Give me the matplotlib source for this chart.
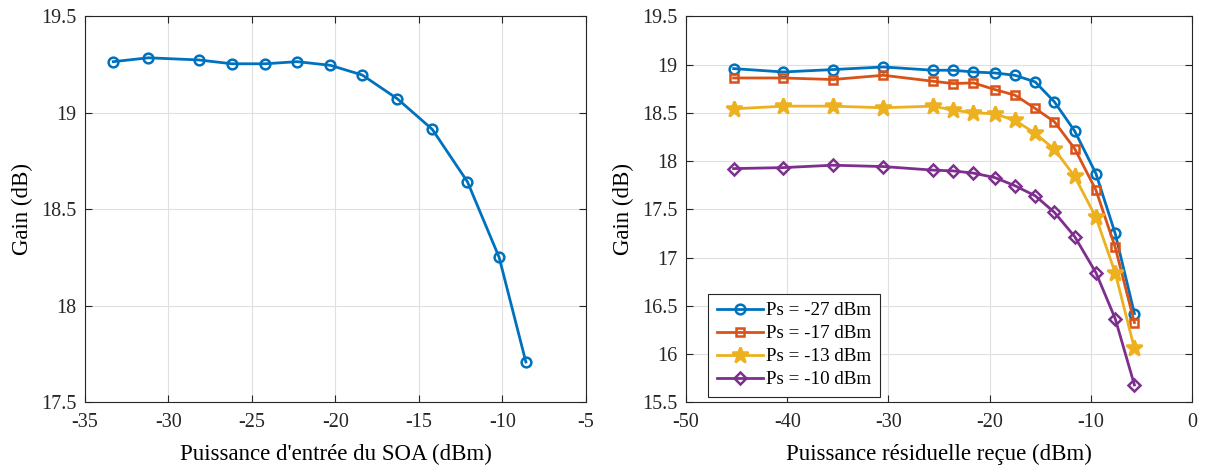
import matplotlib.pyplot as plt

plt.rcParams['font.family'] = ['Liberation Serif', 'DejaVu Serif']
plt.rcParams['axes.unicode_minus'] = False

# left plot: gain vs SOA input power
p_in = [-33.3, -31.2, -28.2, -26.2, -24.2, -22.3, -20.3, -18.4, -16.3, -14.2, -12.1, -10.2, -8.6]
gain_in = [19.265, 19.285, 19.274, 19.254, 19.254, 19.265, 19.246, 19.196, 19.073, 18.914, 18.643, 18.251, 17.709]

# right plot: gain vs received residual power
p_res = [-45.3, -40.4, -35.5, -30.5, -25.6, -23.6, -21.6, -19.5, -17.5, -15.5, -13.6, -11.6, -9.5, -7.6, -5.7]
g_27 = [18.958, 18.923, 18.948, 18.975, 18.941, 18.941, 18.923, 18.913, 18.889, 18.82, 18.613, 18.311, 17.87, 17.25, 16.42]
g_17 = [18.861, 18.861, 18.845, 18.889, 18.827, 18.803, 18.81, 18.741, 18.683, 18.545, 18.407, 18.128, 17.699, 17.107, 16.327]
g_13 = [18.541, 18.569, 18.569, 18.552, 18.569, 18.528, 18.5, 18.49, 18.422, 18.287, 18.122, 17.84, 17.416, 16.843, 16.058]
g_10 = [17.922, 17.932, 17.957, 17.943, 17.906, 17.898, 17.875, 17.829, 17.744, 17.64, 17.468, 17.217, 16.843, 16.368, 15.68]
labels = ['Ps = -27 dBm', 'Ps = -17 dBm', 'Ps = -13 dBm', 'Ps = -10 dBm']

colors = ['#0072BD', '#D95319', '#EDB120', '#7E2F8E']
markers = ['o', 's', '*', 'D']
msizes = [7, 6, 12, 6]

fig = plt.figure(figsize=(12.05, 4.67), dpi=100)
ax1 = fig.add_axes([0.0705, 0.1385, 0.4158, 0.8266])
ax2 = fig.add_axes([0.5693, 0.1385, 0.42, 0.8266])


def style(ax):
    ax.grid(True, color='#e0e0e0', linewidth=0.8)
    ax.set_axisbelow(True)
    ax.tick_params(direction='in', top=True, right=True, labelsize=14.5,
                   colors='#262626', length=5, pad=6)
    ax.tick_params(axis='x', pad=8)
    for s in ax.spines.values():
        s.set_color('#262626')
        s.set_linewidth(0.8)


ax1.plot(p_in, gain_in, '-o', color=colors[0], lw=2, ms=7, mew=1.8,
         mfc='none')
ax1.set_xlim(-35, -5)
ax1.set_ylim(17.5, 19.5)
ax1.set_xticks(range(-35, -4, 5))
ax1.set_yticks([17.5, 18, 18.5, 19, 19.5])
ax1.set_yticklabels(['17.5', '18', '18.5', '19', '19.5'])
ax1.set_xlabel("Puissance d'entrée du SOA (dBm)", fontsize=16.5, labelpad=8)
ax1.set_ylabel('Gain (dB)', fontsize=16.5, labelpad=6)
style(ax1)

for g, c, m, s, lab in zip([g_27, g_17, g_13, g_10], colors, markers, msizes, labels):
    face = c if m == '*' else 'none'
    ax2.plot(p_res, g, '-', marker=m, color=c, lw=2, ms=s, mew=1.8,
             mfc=face, label=lab)
ax2.set_xlim(-50, 0)
ax2.set_ylim(15.5, 19.5)
ax2.set_xticks(range(-50, 1, 10))
yt = [15.5, 16, 16.5, 17, 17.5, 18, 18.5, 19, 19.5]
ax2.set_yticks(yt)
ax2.set_yticklabels([('%g' % v) for v in yt])
ax2.set_xlabel('Puissance résiduelle reçue (dBm)', fontsize=16.5, labelpad=8)
ax2.set_ylabel('Gain (dB)', fontsize=16.5, labelpad=6)
style(ax2)
leg = ax2.legend(loc='lower left', bbox_to_anchor=(0.0435, 0.0137),
                 fontsize=13.7, fancybox=False, edgecolor='#262626',
                 framealpha=1, handlelength=2.45, borderpad=0.45,
                 labelspacing=0.3, handletextpad=0.15, borderaxespad=0)
leg.get_frame().set_linewidth(0.8)

plt.savefig('out.png', dpi=100)
